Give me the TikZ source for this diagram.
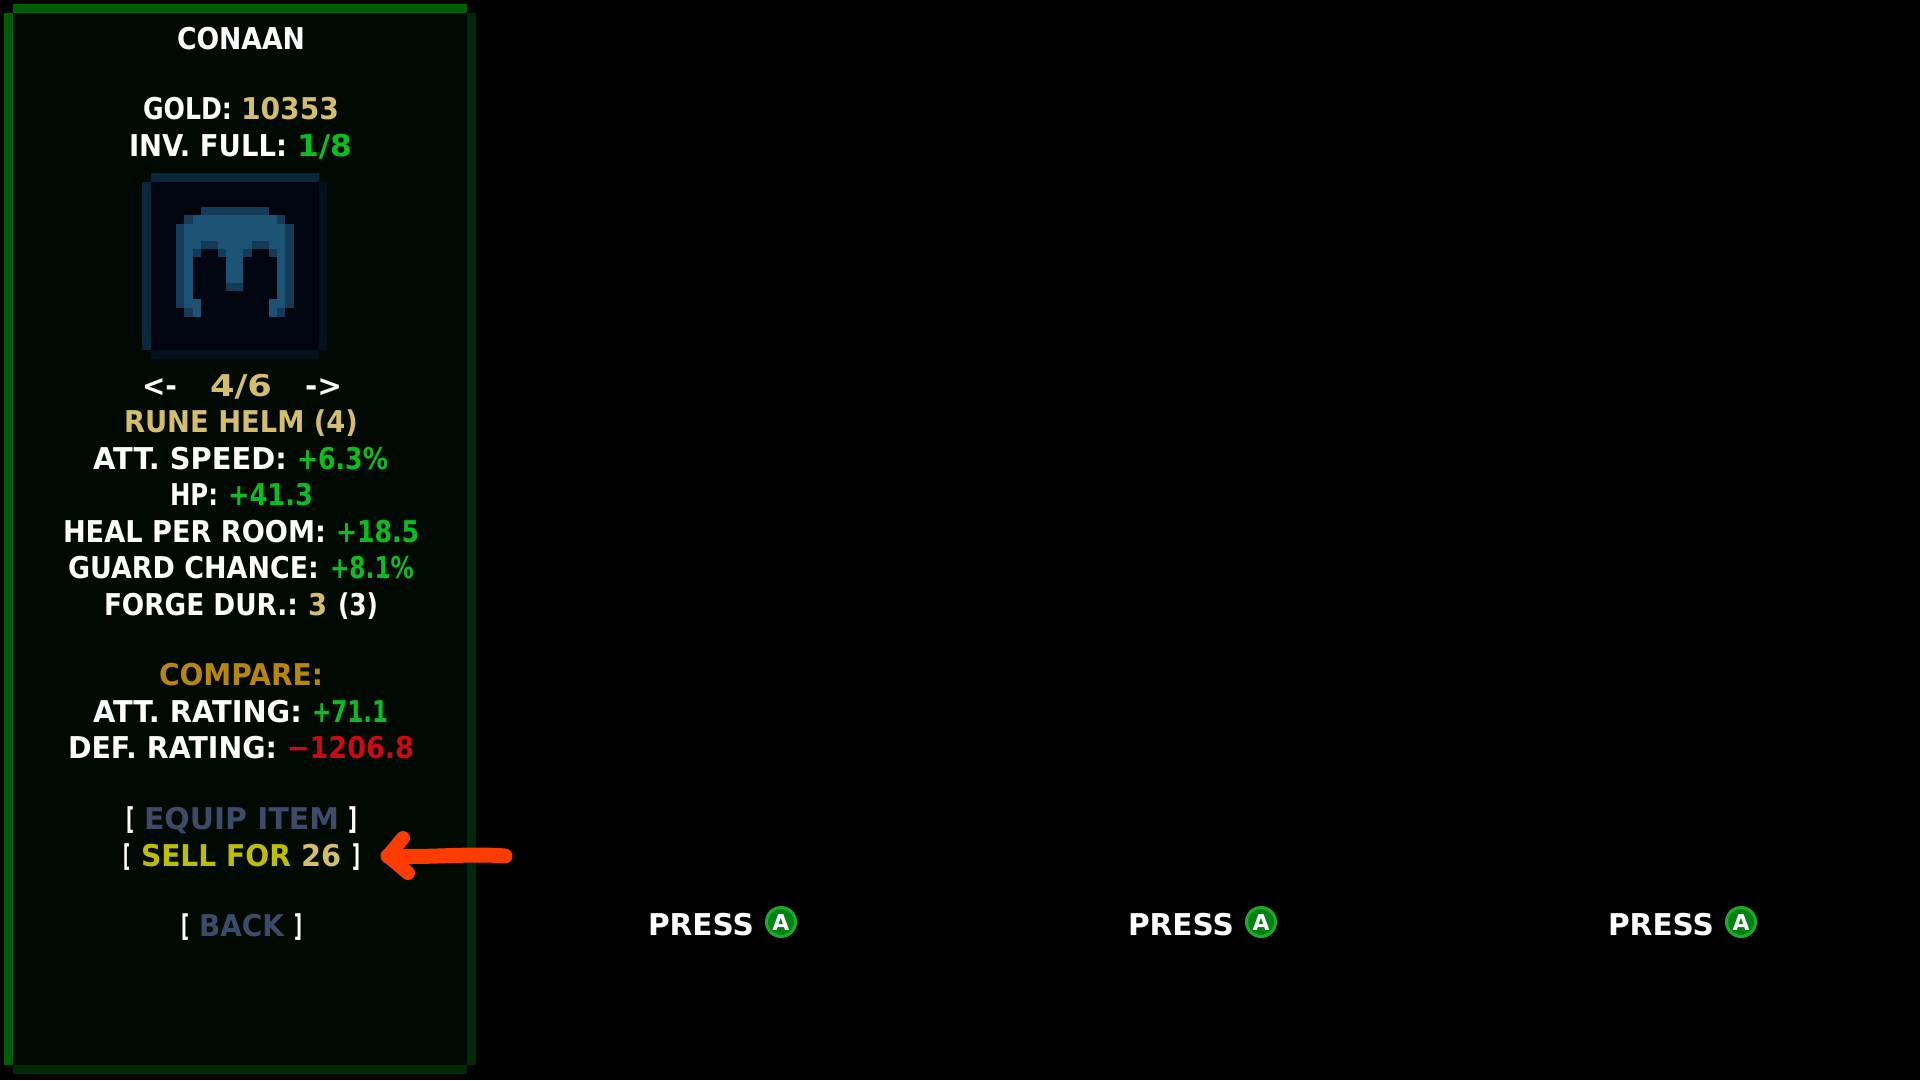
\documentclass[tikz,border=0pt]{standalone}
\usepackage{fontspec}
\usepackage{graphicx}
\newfontfamily\pixfont{DejaVu Sans}
\definecolor{panelbg}{RGB}{0,10,2}
\definecolor{edgeA}{RGB}{0,92,5}
\definecolor{edgeB}{RGB}{0,42,5}
\definecolor{goldc}{RGB}{212,190,110}
\definecolor{greenc}{RGB}{10,190,30}
\definecolor{redc}{RGB}{205,10,15}
\definecolor{cmpc}{RGB}{184,134,12}
\definecolor{slatec}{RGB}{60,75,105}
\definecolor{sellc}{RGB}{190,190,0}
\definecolor{arrowc}{RGB}{255,60,0}
\definecolor{tileA}{RGB}{10,40,60}
\definecolor{tileB}{RGB}{3,17,28}
\definecolor{tileC}{RGB}{1,5,15}
\definecolor{helmA}{RGB}{28,82,115}
\definecolor{helmB}{RGB}{20,58,88}
\definecolor{btnA}{RGB}{0,130,20}
\definecolor{btnB}{RGB}{30,170,40}
\newcommand\fitw[2]{\setbox0\hbox{\pixfont\bfseries\fontsize{30}{30}\selectfont #2}\pgfmathsetmacro\rr{#1/\the\wd0}\scalebox{\rr}[1]{\box0}}
% name, x0, x1, baseline, colour, text
\newcommand\run[6]{\pgfmathsetmacro\ww{#3-#2}\node[txt,text=#5] (#1) at (#2,#4-0.5) {\fitw{\ww}{#6}};}
\tikzset{txt/.style={anchor=base west,inner sep=0pt,outer sep=0pt}}
\begin{document}
\begin{tikzpicture}[x=1pt,y=-1pt]
\useasboundingbox (0,0) rectangle (1920,1080);
\fill[black] (0,0) rectangle (1920,1080);
% panel
\fill[panelbg] (13,13) rectangle (467,1065);
\fill[edgeA] (13,4) rectangle (467,13);
\fill[edgeA] (4,13) rectangle (13,1065);
\fill[edgeB] (467,13) rectangle (476,1065);
\fill[edgeB] (13,1065) rectangle (467,1074);
% tile
\fill[tileC] (151,182) rectangle (319,350);
\fill[tileA] (151,173) rectangle (319,182);
\fill[tileA] (142,182) rectangle (151,350);
\fill[tileB] (319,182) rectangle (327,350);
\fill[tileB] (151,350) rectangle (319,359);
% helmet (coordinates of a 3x grid)
\begin{scope}[x=0.3333pt,y=-0.3333pt]
\fill[helmB] (603,620) rectangle (807,645);
\fill[helmB] (553,645) rectangle (855,672);
\fill[helmB] (528,672) rectangle (882,923);
\fill[helmA] (578,645) rectangle (832,672);
\fill[helmA] (553,672) rectangle (855,722);
\fill[helmA] (553,722) rectangle (855,747);
\fill[helmB] (603,722) rectangle (653,747);
\fill[helmB] (755,722) rectangle (807,747);
\fill[helmB] (578,747) rectangle (832,772);
\fill[helmA] (553,747) rectangle (578,923);
\fill[helmA] (832,747) rectangle (855,923);
\fill[helmA] (678,747) rectangle (730,848);
\fill[tileC] (603,747) rectangle (653,772);
\fill[tileC] (755,747) rectangle (807,772);
\fill[tileC] (578,772) rectangle (678,898);
\fill[tileC] (730,772) rectangle (832,898);
\fill[tileC] (678,873) rectangle (730,898);
\fill[helmB] (678,848) rectangle (730,873);
\fill[tileC] (603,898) rectangle (807,923);
\fill[helmA] (578,898) rectangle (603,950);
\fill[helmA] (807,898) rectangle (832,950);
\fill[helmB] (553,923) rectangle (578,950);
\fill[helmB] (832,923) rectangle (855,950);
\end{scope}
% text
\run{name}{177}{305}{50}{white}{CONAAN}
\run{goldl}{143}{232}{120}{white}{GOLD:}
\run{goldv}{241}{339}{120}{goldc}{10353}
\run{invl}{129}{287}{157}{white}{INV. FULL:}
\run{invv}{297}{352}{157}{greenc}{1/8}
\run{prev}{142}{177}{397}{white}{<-}
\run{page}{210}{272}{397}{goldc}{4/6}
\run{nxt}{305}{342}{397}{white}{->}
\run{rune}{124}{358}{433}{goldc}{RUNE HELM (4)}
\run{asl}{93}{287}{470}{white}{ATT. SPEED:}
\run{asv}{297}{388}{470}{greenc}{+6.3\%}
\run{hpl}{170}{218}{506}{white}{HP:}
\run{hpv}{228}{313}{506}{greenc}{+41.3}
\run{hrl}{63}{326}{543}{white}{HEAL PER ROOM:}
\run{hrv}{336}{419}{543}{greenc}{+18.5}
\run{gcl}{68}{319}{579}{white}{GUARD CHANCE:}
\run{gcv}{330}{414}{579}{greenc}{+8.1\%}
\run{fdl}{104}{298}{616}{white}{FORGE DUR.:}
\run{fdv}{308}{327}{616}{goldc}{3}
\run{fdm}{338}{378}{616}{white}{(3)}
\run{cmp}{159}{323}{686}{cmpc}{COMPARE:}
\run{arl}{93}{302}{723}{white}{ATT. RATING:}
\run{arv}{312}{388}{723}{greenc}{+71.1}
\run{drl}{68}{277}{759}{white}{DEF. RATING:}
\run{drv}{287}{414}{759}{redc}{−1206.8}
\run{eqa}{126}{134}{830}{white}{[}
\run{eqt}{144}{339}{830}{slatec}{EQUIP ITEM}
\run{eqb}{348}{357}{830}{white}{]}
\run{sea}{123}{130}{867}{white}{[}
\run{set}{141}{291}{867}{sellc}{SELL FOR}
\run{sev}{301}{341}{867}{goldc}{26}
\run{seb}{352}{360}{867}{white}{]}
\run{baa}{181}{189}{937}{white}{[}
\run{bat}{199}{284}{937}{slatec}{BACK}
\run{bab}{294}{302}{937}{white}{]}
% arrow
\draw[arrowc,line width=15pt,line cap=round,line join=round] (505,856) .. controls (470,853) and (430,858) .. (388,856);
\draw[arrowc,line width=14pt,line cap=round,line join=round] (403,838) -- (388,856) -- (408,873);
% prompts
\foreach \i/\x in {1/648,2/1128,3/1608}{
  \pgfmathsetmacro\xe{\x+106}
  \pgfmathsetmacro\xb{\x+133}
  \run{press\i}{\x}{\xe}{936}{white}{PRESS}
  \node[circle,fill=btnA,draw=btnB,line width=3pt,minimum size=29pt,inner sep=0pt,text=white] (btn\i) at (\xb,922) {\pixfont\bfseries\fontsize{22}{22}\selectfont A};
}
\end{tikzpicture}
\end{document}
